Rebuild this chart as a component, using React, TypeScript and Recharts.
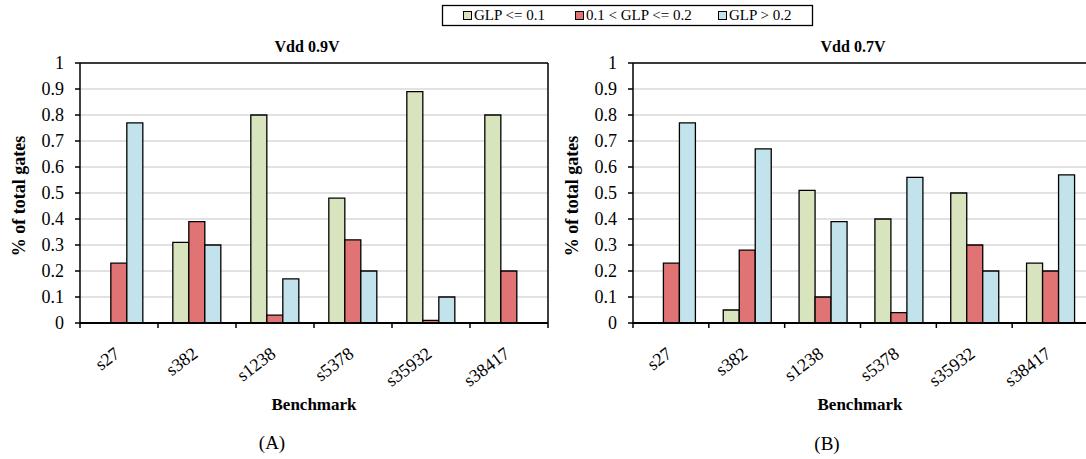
import React from "react";
import { BarChart, Bar, XAxis, YAxis, CartesianGrid } from "recharts";

const benchmarks = ["s27", "s382", "s1238", "s5378", "s35932", "s38417"];
const seriesNames = ["GLP <= 0.1", "0.1 < GLP <= 0.2", "GLP > 0.2"];
const seriesColors = ["#d7e4bd", "#e07373", "#c3e3ec"];

// Vdd 0.9V
const low09 = [0, 0.31, 0.8, 0.48, 0.89, 0.8];
const mid09 = [0.23, 0.39, 0.03, 0.32, 0.01, 0.2];
const high09 = [0.77, 0.3, 0.17, 0.2, 0.1, 0];

// Vdd 0.7V
const low07 = [0, 0.05, 0.51, 0.4, 0.5, 0.23];
const mid07 = [0.23, 0.28, 0.1, 0.04, 0.3, 0.2];
const high07 = [0.77, 0.67, 0.39, 0.56, 0.2, 0.57];

const yTicks = [0, 0.1, 0.2, 0.3, 0.4, 0.5, 0.6, 0.7, 0.8, 0.9, 1];

const serif = "'Liberation Serif', 'Times New Roman', serif";
const TICK_SIZE = 5;

const build = (a: number[], b: number[], c: number[]) =>
  benchmarks.map((name, i) => ({ name, s0: a[i], s1: b[i], s2: c[i] }));

const makeTick = (band: number, count: number) => (props: any) => {
  const { x, y, payload, index } = props;
  const axisY = y - TICK_SIZE;
  const left = x - band / 2;
  const lx = x + 2;
  const ly = axisY + 33;
  return (
    <g>
      <line x1={left} x2={left} y1={axisY} y2={axisY + TICK_SIZE} stroke="#000" strokeWidth={1.5} />
      {index === count - 1 && (
        <line x1={left + band} x2={left + band} y1={axisY} y2={axisY + TICK_SIZE} stroke="#000" strokeWidth={1.5} />
      )}
      <text
        x={lx}
        y={ly}
        textAnchor="end"
        fontSize={18}
        fontFamily={serif}
        fill="#000"
        transform={`rotate(-37, ${lx}, ${ly})`}
      >
        {payload.value}
      </text>
    </g>
  );
};

type PanelProps = {
  data: any[];
  width: number;
  plotLeft: number;
  plotRight: number;
};

const Panel = ({ data, width, plotLeft, plotRight }: PanelProps) => {
  const height = 459;
  const top = 63;
  const bottom = 323;
  const band = (plotRight - plotLeft) / benchmarks.length;
  return (
    <BarChart
      width={width}
      height={height}
      data={data}
      barCategoryGap="19%"
      barGap={0}
      margin={{ top: top - 1, right: width - plotRight - 1, left: plotLeft - 60, bottom: height - bottom - 100 }}
    >
      <CartesianGrid vertical={false} horizontal stroke="#d9d9d9" strokeWidth={1.5} />
      <XAxis
        dataKey="name"
        height={100}
        tickSize={TICK_SIZE}
        tickMargin={0}
        tickLine={false}
        axisLine={{ stroke: "#000", strokeWidth: 2 }}
        interval={0}
        tick={makeTick(band, benchmarks.length)}
      />
      <XAxis xAxisId="top" orientation="top" dataKey="name" height={1} tick={false} tickLine={false} axisLine={{ stroke: "#000", strokeWidth: 1.5 }} />
      <YAxis
        width={60}
        domain={[0, 1]}
        ticks={yTicks}
        interval={0}
        tickSize={TICK_SIZE}
        tickMargin={11}
        tickLine={{ stroke: "#000", strokeWidth: 1.5 }}
        axisLine={{ stroke: "#000", strokeWidth: 1.5 }}
        tick={{ fill: "#000", fontSize: 18, fontFamily: serif }}
      />
      <YAxis yAxisId="right" orientation="right" width={1} tick={false} tickLine={false} axisLine={{ stroke: "#000", strokeWidth: 1.5 }} />
      {seriesNames.map((n, i) => (
        <Bar
          key={n}
          dataKey={`s${i}`}
          name={n}
          fill={seriesColors[i]}
          stroke="#000"
          strokeWidth={1.3}
          isAnimationActive={false}
        />
      ))}
    </BarChart>
  );
};

const abs = (style: React.CSSProperties): React.CSSProperties => ({
  position: "absolute",
  fontFamily: serif,
  color: "#000",
  whiteSpace: "nowrap",
  ...style,
});

const centered = (x: number, y: number, extra: React.CSSProperties = {}) =>
  abs({ left: x, top: y, transform: "translate(-50%, -50%)", ...extra });

const legendLefts = [463, 575, 718];

export default function App() {
  return (
    <div
      style={{
        position: "absolute",
        left: 0,
        top: 0,
        width: 1086,
        height: 459,
        overflow: "hidden",
        background: "#fff",
      }}
    >
      <div style={{ position: "absolute", left: 0, top: 0 }}>
        <Panel data={build(low09, mid09, high09)} width={560} plotLeft={80} plotRight={548} />
      </div>
      <div style={{ position: "absolute", left: 552, top: 0 }}>
        <Panel data={build(low07, mid07, high07)} width={540} plotLeft={81} plotRight={536} />
      </div>

      <div style={centered(307, 47, { fontWeight: "bold", fontSize: 16 })}>Vdd 0.9V</div>
      <div style={centered(853, 47, { fontWeight: "bold", fontSize: 16 })}>Vdd 0.7V</div>

      <div style={centered(19, 196, { fontWeight: "bold", fontSize: 18, transform: "translate(-50%, -50%) rotate(-90deg)" })}>
        % of total gates
      </div>
      <div style={centered(572, 196, { fontWeight: "bold", fontSize: 18, transform: "translate(-50%, -50%) rotate(-90deg)" })}>
        % of total gates
      </div>

      <div style={centered(314, 405, { fontWeight: "bold", fontSize: 17 })}>Benchmark</div>
      <div style={centered(860, 405, { fontWeight: "bold", fontSize: 17 })}>Benchmark</div>

      <div style={centered(272, 443, { fontSize: 19 })}>(A)</div>
      <div style={centered(827, 444, { fontSize: 19 })}>(B)</div>

      <svg style={{ position: "absolute", left: 0, top: 0 }} width={1086} height={30}>
        <rect x={442.5} y={5.5} width={370} height={20} fill="none" stroke="#000" strokeWidth={1.3} />
      </svg>
      {seriesNames.map((n, i) => (
        <div key={n} style={abs({ left: legendLefts[i], top: 6, height: 19, display: "flex", alignItems: "center", fontSize: 15 })}>
          <span
            style={{
              display: "inline-block",
              width: 7,
              height: 7,
              border: "1px solid #000",
              background: seriesColors[i],
              marginRight: 2,
            }}
          />
          {n}
        </div>
      ))}
    </div>
  );
}
